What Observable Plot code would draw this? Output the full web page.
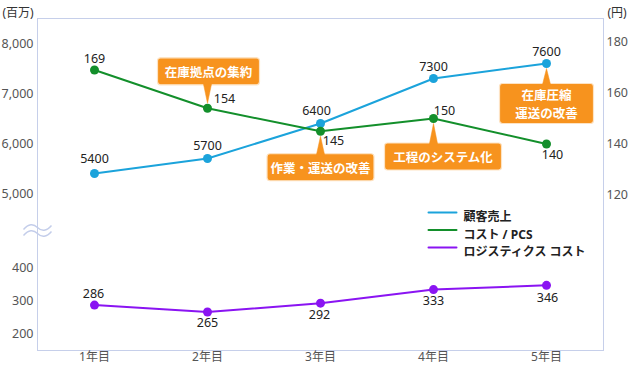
<!DOCTYPE html>
<html><head><meta charset="utf-8">
<script src="https://cdn.jsdelivr.net/npm/d3@7"></script>
<script src="https://cdn.jsdelivr.net/npm/@observablehq/plot@0.6"></script>
<style>
body{margin:0;background:#fff;}
#chart svg{display:block;}
</style></head><body><div id="chart"></div>
<script>
// ---- data ----
const years = ["1年目","2年目","3年目","4年目","5年目"];
const sales = [5400,5700,6400,7300,7600];          // 顧客売上 (百万)
const costPerPcs = [169,154,145,150,140];          // コスト / PCS (円)
const logistics = [286,265,292,333,346];           // ロジスティクス コスト
const seriesNames = ["顧客売上","コスト / PCS","ロジスティクス コスト"];
const salesTicks = [5000,6000,7000,8000];
const logisticsTicks = [200,300,400];
const costTicks = [120,140,160,180];
const leftUnit = "(百万)";
const rightUnit = "(円)";
const calloutTexts = ["在庫拠点の集約","作業・運送の改善","工程のシステム化","在庫圧縮\n運送の改善"];

// ---- layout / style (not data) ----
const colors = ["#1ba3db","#138f2b","#8a14f2"];
const orange = "#f7931e";
const calloutLayout = [
  {series:"cost",  i:1, dx:1,   dy:-37, w:102, h:27},
  {series:"cost",  i:2, dx:0,   dy:36,  w:107, h:27},
  {series:"cost",  i:3, dx:9.5, dy:38,  w:117, h:27},
  {series:"sales", i:4, dx:0,   dy:40,  w:94,  h:40}
];
const salesLabelOffsets = [[0,-15],[0,-13],[-4,-13],[0,-12],[0,-12]];
const costLabelOffsets  = [[0,-11],[17,-9],[13,10],[11,-8],[6,11]];
const logLabelOffsets   = [[-1,-11],[0,11],[-1,12],[0,11],[1,13]];

// dual / broken axis: map every series onto one shared vertical scale
const vSales = v => v;
const vCost  = c => 7010 - (160 - c) * 51;
const vLog   = v => 2860 + (v - 300) * 6.6;

const rows = years.map((year, i) => ({
  year, sales: sales[i], cost: costPerPcs[i], logistics: logistics[i],
  ys: vSales(sales[i]), yc: vCost(costPerPcs[i]), yl: vLog(logistics[i])
}));

const leftLabels = new Map([
  ...salesTicks.map(t => [vSales(t), d3.format(",")(t)]),
  ...logisticsTicks.map(t => [vLog(t), String(t)])
]);
const rightLabels = new Map(costTicks.map(t => [vCost(t), String(t)]));

function boxSymbol(w, h, rad = 3) {
  return {draw(ctx) {
    const x0 = -w/2, y0 = -h/2, x1 = w/2, y1 = h/2;
    ctx.moveTo(x0 + rad, y0);
    ctx.lineTo(x1 - rad, y0); ctx.arcTo(x1, y0, x1, y0 + rad, rad);
    ctx.lineTo(x1, y1 - rad); ctx.arcTo(x1, y1, x1 - rad, y1, rad);
    ctx.lineTo(x0 + rad, y1); ctx.arcTo(x0, y1, x0, y1 - rad, rad);
    ctx.lineTo(x0, y0 + rad); ctx.arcTo(x0, y0, x0 + rad, y0, rad);
    ctx.closePath();
  }};
}
const waveSymbol = {draw(ctx) {
  for (const o of [-3, 3]) {
    ctx.moveTo(-14, o + 2);
    ctx.bezierCurveTo(-9, o - 4, -4, o - 4, 0, o);
    ctx.bezierCurveTo(4, o + 4, 9, o + 4, 14, o - 2);
  }
}};
const lineShape = {draw(ctx, l) { ctx.moveTo(0, 0); ctx.lineTo(0, -l); }};

const yKey = {sales: "ys", cost: "yc"};
const font = "'Noto Sans','Noto Sans CJK JP',sans-serif";

function labelMarks(key, field, offsets, fmt = String) {
  return offsets.map((o, i) => Plot.text([rows[i]], {
    x: "year", y: key, text: d => fmt(d[field]), dx: o[0], dy: o[1],
    fontSize: 12.5, fill: "#222"
  }));
}

const calloutMarks = calloutLayout.flatMap((c, k) => {
  const d = [rows[c.i]];
  const y = yKey[c.series];
  const above = c.dy < 0;
  const len = Math.abs(c.dy) - c.h / 2 - 5 + 3;
  return [
    Plot.dot(d, {x: "year", y, dx: c.dx, dy: c.dy, symbol: boxSymbol(c.w, c.h), r: 5,
      fill: orange, stroke: "#fde3c4", strokeWidth: 1.2}),
    Plot.vector(d, {x: "year", y, dy: above ? -5 : 5, rotate: above ? 180 : 0, anchor: "end",
      length: len, shape: "spike", r: 4.5, fill: orange, stroke: orange, strokeWidth: 0.5}),
    Plot.text(d, {x: "year", y, dx: c.dx, dy: c.dy, text: () => calloutTexts[k],
      fill: "white", fontWeight: "bold", fontSize: 12.5, lineHeight: 1.45})
  ];
});

const legendMarks = seriesNames.flatMap((name, i) => [
  Plot.vector([name], {frameAnchor: "top-left", dx: 391, dy: 194 + i * 17.5, rotate: 90, anchor: "start",
    length: 28, shape: lineShape, stroke: colors[i], strokeWidth: 2}),
  Plot.text([name], {frameAnchor: "top-left", dx: 426, dy: 194 + i * 17.5, text: d => d,
    textAnchor: "start", fontWeight: "bold", fontSize: 12, fill: "#222"})
]);

const breakY = (vSales(salesTicks[0]) + vLog(logisticsTicks[logisticsTicks.length - 1])) / 2;

const chart = Plot.plot({
  width: 630, height: 366,
  marginLeft: 37, marginRight: 27, marginTop: 18, marginBottom: 16,
  style: {fontFamily: font, fontSize: "12.5px", color: "#222", background: "#fff"},
  x: {type: "point", domain: years, padding: 0.5, label: null},
  y: {domain: [1860, 8500], label: null},
  marks: [
    Plot.frame({stroke: "#c6cfea"}),
    Plot.axisX({tickSize: 0, tickPadding: 2, fontSize: 12, color: "#555", label: null}),
    Plot.axisY({anchor: "left", ticks: [...leftLabels.keys()], tickFormat: t => leftLabels.get(t),
      tickSize: 0, tickPadding: 4, fontSize: 12.5, color: "#555", label: null}),
    Plot.axisY({anchor: "right", ticks: [...rightLabels.keys()], tickFormat: t => rightLabels.get(t),
      tickSize: 0, tickPadding: 3, fontSize: 12.5, color: "#555", label: null}),
    Plot.dot([breakY], {y: d => d, frameAnchor: "left", symbol: waveSymbol, r: 5,
      fill: "none", stroke: "#c3cdea", strokeWidth: 1.4}),
    Plot.text([leftUnit], {frameAnchor: "top-left", dx: -35, dy: -10, text: d => d,
      textAnchor: "start", fontSize: 12, fill: "#333"}),
    Plot.text([rightUnit], {frameAnchor: "top-right", dx: 4, dy: -10, text: d => d,
      textAnchor: "start", fontSize: 12, fill: "#333"}),
    // lines
    Plot.line(rows, {x: "year", y: "ys", stroke: colors[0], strokeWidth: 2}),
    Plot.dot(rows, {x: "year", y: "ys", r: 4.5, fill: colors[0]}),
    Plot.line(rows, {x: "year", y: "yc", stroke: colors[1], strokeWidth: 2}),
    Plot.dot(rows, {x: "year", y: "yc", r: 4.5, fill: colors[1]}),
    Plot.line(rows, {x: "year", y: "yl", stroke: colors[2], strokeWidth: 2}),
    Plot.dot(rows, {x: "year", y: "yl", r: 4.5, fill: colors[2]}),
    ...labelMarks("ys", "sales", salesLabelOffsets),
    ...labelMarks("yc", "cost", costLabelOffsets),
    ...labelMarks("yl", "logistics", logLabelOffsets),
    ...calloutMarks,
    ...legendMarks
  ]
});
document.getElementById("chart").append(chart);
</script>
</body></html>
